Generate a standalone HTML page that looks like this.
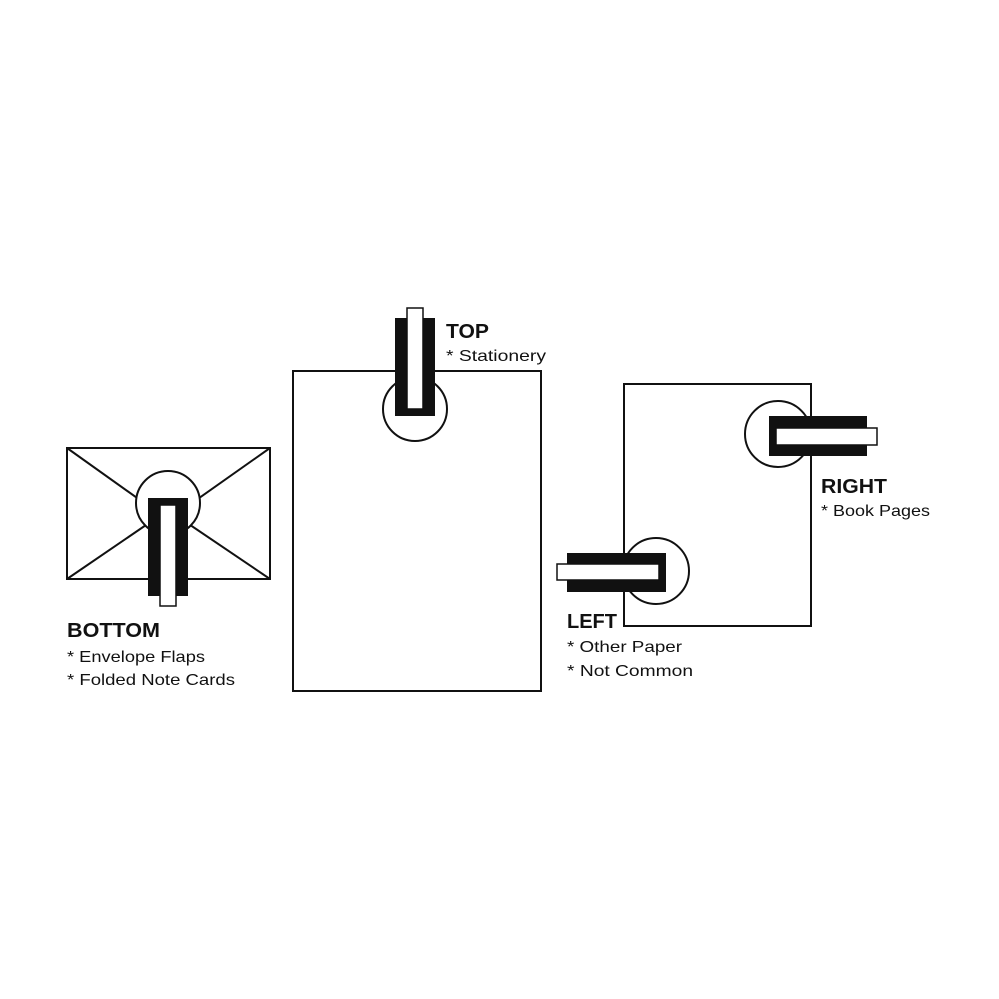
<!DOCTYPE html>
<html><head><meta charset="utf-8"><style>html,body{margin:0;padding:0;background:#fff}svg{display:block}</style></head>
<body>
<svg width="999" height="999" viewBox="0 0 999 999" xmlns="http://www.w3.org/2000/svg" font-family="Liberation Sans, sans-serif" fill="#111">
<rect width="999" height="999" fill="#fff"/>
<g fill="none" stroke="#111" stroke-width="2">
<!-- envelope -->
<rect x="67" y="448" width="203" height="131"/>
<line x1="67" y1="448" x2="168" y2="520"/>
<line x1="270" y1="448" x2="168" y2="520"/>
<line x1="67" y1="579" x2="168" y2="510"/>
<line x1="270" y1="579" x2="168" y2="510"/>
<circle cx="168" cy="503" r="32" fill="#fff"/>
<!-- top paper -->
<rect x="293" y="371" width="248" height="320"/>
<circle cx="415" cy="409" r="32"/>
<!-- right paper -->
<rect x="624" y="384" width="187" height="242"/>
<circle cx="778" cy="434" r="33" fill="#fff"/>
<circle cx="656" cy="571" r="33" fill="#fff"/>
</g>
<!-- clips -->
<rect x="148" y="498" width="40" height="98" fill="#111"/>
<rect x="160" y="505" width="16" height="101" fill="#fff" stroke="#111" stroke-width="1.5"/>
<rect x="395" y="318" width="40" height="98" fill="#111"/>
<rect x="407" y="308" width="16" height="101" fill="#fff" stroke="#111" stroke-width="1.5"/>
<rect x="769" y="416" width="98" height="40" fill="#111"/>
<rect x="776" y="428" width="101" height="17" fill="#fff" stroke="#111" stroke-width="1.5"/>
<rect x="567" y="553" width="99" height="39" fill="#111"/>
<rect x="557" y="564" width="102" height="16" fill="#fff" stroke="#111" stroke-width="1.5"/>
<!-- text -->
<g font-weight="bold" font-size="20">
<text x="67" y="637" textLength="93" lengthAdjust="spacingAndGlyphs">BOTTOM</text>
<text x="446" y="338" textLength="43" lengthAdjust="spacingAndGlyphs">TOP</text>
<text x="821" y="493" textLength="66" lengthAdjust="spacingAndGlyphs">RIGHT</text>
<text x="567" y="628" textLength="50" lengthAdjust="spacingAndGlyphs">LEFT</text>
</g>
<g font-size="16">
<text x="67" y="662" textLength="138" lengthAdjust="spacingAndGlyphs">* Envelope Flaps</text>
<text x="67" y="685" textLength="168" lengthAdjust="spacingAndGlyphs">* Folded Note Cards</text>
<text x="446" y="361" textLength="100" lengthAdjust="spacingAndGlyphs">* Stationery</text>
<text x="821" y="516" textLength="109" lengthAdjust="spacingAndGlyphs">* Book Pages</text>
<text x="567" y="652" textLength="115" lengthAdjust="spacingAndGlyphs">* Other Paper</text>
<text x="567" y="676" textLength="126" lengthAdjust="spacingAndGlyphs">* Not Common</text>
</g>
</svg>
</body></html>
